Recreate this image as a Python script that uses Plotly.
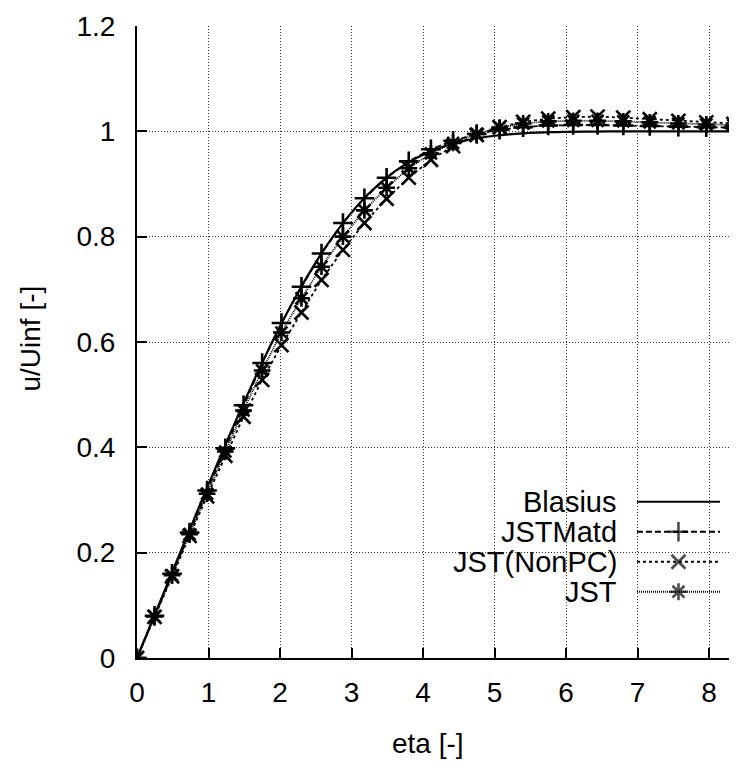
import plotly.graph_objects as go

# ---------------- data ----------------
blasius_eta = [0.0, 0.2, 0.4, 0.6, 0.8, 1.0, 1.2, 1.4, 1.6, 1.8, 2.0, 2.2, 2.4, 2.6, 2.8,
               3.0, 3.2, 3.4, 3.6, 3.8, 4.0, 4.2, 4.4, 4.6, 4.8, 5.0, 5.2, 5.4, 5.6, 5.8,
               6.0, 6.4, 6.8, 7.2, 7.6, 8.0, 8.8]
blasius_u = [0.0, 0.06641, 0.13277, 0.19894, 0.26471, 0.32979, 0.39378, 0.45627, 0.51676,
             0.57477, 0.62977, 0.68132, 0.72899, 0.77246, 0.81152, 0.84605, 0.87609, 0.90177,
             0.92333, 0.94112, 0.95552, 0.96696, 0.97587, 0.98269, 0.98779, 0.99155, 0.99425,
             0.99616, 0.99748, 0.99838, 0.99898, 0.99961, 0.99987, 0.99996, 0.99999, 1.0, 1.0]

eta = [0.0, 0.245, 0.49, 0.735, 0.98, 1.235, 1.49, 1.75, 2.02, 2.30, 2.58, 2.88, 3.18, 3.49,
       3.80, 4.11, 4.42, 4.75, 5.07, 5.40, 5.75, 6.10, 6.44, 6.80, 7.17, 7.57, 7.96, 8.34, 8.74]

jstmatd_u = [0.0, 0.080, 0.160, 0.238, 0.318, 0.398, 0.480, 0.560, 0.636, 0.705, 0.768, 0.826,
             0.873, 0.912, 0.943, 0.966, 0.982, 0.995, 1.003, 1.008, 1.011, 1.012, 1.012, 1.011,
             1.010, 1.009, 1.008, 1.007, 1.006]
jst_nonpc_u = [0.0, 0.078, 0.155, 0.232, 0.307, 0.384, 0.458, 0.528, 0.594, 0.656, 0.718, 0.775,
               0.826, 0.872, 0.912, 0.946, 0.972, 0.993, 1.008, 1.018, 1.024, 1.027, 1.028, 1.026,
               1.023, 1.020, 1.017, 1.014, 1.012]
jst_u = [0.0, 0.079, 0.157, 0.235, 0.312, 0.392, 0.470, 0.546, 0.618, 0.683, 0.743, 0.800,
         0.850, 0.893, 0.930, 0.958, 0.978, 0.995, 1.007, 1.015, 1.019, 1.020, 1.020, 1.019,
         1.017, 1.015, 1.013, 1.011, 1.010]

series_names = ["Blasius", "JSTMatd", "JST(NonPC)", "JST"]
x_ticks = [0, 1, 2, 3, 4, 5, 6, 7, 8]
y_ticks = [0, 0.2, 0.4, 0.6, 0.8, 1.0, 1.2]
y_tick_text = ["0", "0.2", "0.4", "0.6", "0.8", "1", "1.2"]
y_grid = [0.2, 0.4, 0.6, 0.8, 1.0]

# ---------------- page geometry (page pixels; body has an 8px margin) ----------------
BODY = 8
PL, PR, PT, PB = 137.3, 737.0, 26.0, 658.3   # plot area in page pixels
FIG_W, FIG_H = 737 - BODY, 768 - BODY

def px(xp):
    return (xp - PL) / (PR - PL)

def py(yp):
    return (PB - yp) / (PB - PT)

# ---------------- styles ----------------
FONT = "Liberation Sans, Arial, Helvetica, sans-serif"
FS = 28
KFS = 29
styles = {
    "Blasius": dict(dash="solid", symbol=None),
    "JSTMatd": dict(dash="6px,3px", symbol="cross-thin"),
    "JST(NonPC)": dict(dash="3px,3px", symbol="x-thin"),
    "JST": dict(dash="1px,1px", symbol="asterisk-open"),
}
MSIZE = 14
MLW = 2.6

fig = go.Figure()

fig.add_trace(go.Scatter(x=blasius_eta, y=blasius_u, mode="lines", line_shape="spline",
                         line=dict(color="black", width=2.2), showlegend=False))

for name, yv in [("JSTMatd", jstmatd_u), ("JST(NonPC)", jst_nonpc_u), ("JST", jst_u)]:
    st = styles[name]
    fig.add_trace(go.Scatter(
        x=eta, y=yv, mode="lines+markers", showlegend=False,
        line=dict(color="black", width=1.8, dash=st["dash"]),
        marker=dict(symbol=st["symbol"], size=MSIZE, color="black",
                    line=dict(color="black", width=MLW)),
    ))

# ---------------- custom gnuplot-like key (pixel-space helper axes) ----------------
key_rows = [502, 532, 562, 592]
for name, ypix in zip(series_names, key_rows):
    st = styles[name]
    if st["symbol"] is None:
        fig.add_trace(go.Scatter(x=[637, 720], y=[ypix, ypix], xaxis="x2", yaxis="y2",
                                 mode="lines", line=dict(color="black", width=2.2),
                                 showlegend=False, hoverinfo="skip"))
    else:
        fig.add_trace(go.Scatter(x=[637, 678.5, 720], y=[ypix] * 3, xaxis="x2", yaxis="y2",
                                 mode="lines+markers",
                                 line=dict(color="black", width=1.8, dash=st["dash"]),
                                 marker=dict(symbol=st["symbol"], size=[0, MSIZE, 0],
                                             color="black", line=dict(color="black", width=MLW)),
                                 showlegend=False, hoverinfo="skip"))
    fig.add_annotation(x=px(619), y=py(ypix), xref="paper", yref="paper", text=name,
                       showarrow=False, xanchor="right", yanchor="middle",
                       font=dict(family=FONT, size=KFS, color="black"))

# axis titles
fig.add_annotation(x=px(31), y=py(339), xref="paper", yref="paper", text="u/Uinf [-]",
                   textangle=-90, showarrow=False, xanchor="center", yanchor="middle",
                   font=dict(family=FONT, size=FS, color="black"))
fig.add_annotation(x=px(428), y=py(744), xref="paper", yref="paper", text="eta [-]",
                   showarrow=False, xanchor="center", yanchor="middle",
                   font=dict(family=FONT, size=FS, color="black"))

grid = dict(gridcolor="#333333", gridwidth=1, griddash="1px,2px")
fig.update_layout(
    width=FIG_W, height=FIG_H,
    margin=dict(l=PL - BODY, r=0, t=PT - BODY, b=FIG_H - (PB - BODY)),
    plot_bgcolor="white", paper_bgcolor="white",
    font=dict(family=FONT, size=FS, color="black"),
    xaxis=dict(range=[0, 8.39], tickvals=x_ticks, ticks="inside", ticklen=10, tickwidth=1.5,
               tickcolor="black", showline=True, linecolor="black", linewidth=2,
               zeroline=False, ticklabelstandoff=8, showgrid=True, **grid),
    yaxis=dict(range=[0, 1.2], tickvals=y_ticks, ticktext=y_tick_text, ticks="inside",
               ticklen=10, tickwidth=1.5, tickcolor="black", showline=True,
               linecolor="black", linewidth=2, zeroline=False, ticklabelstandoff=14,
               showgrid=False),
    yaxis3=dict(overlaying="y", range=[0, 1.2], tickvals=y_grid, showticklabels=False,
                ticks="", showline=False, zeroline=False, showgrid=True, **grid),
    xaxis2=dict(overlaying="x", range=[PL, PR], visible=False, fixedrange=True),
    yaxis2=dict(overlaying="y", range=[PB, PT], visible=False, fixedrange=True),
)
# a dummy invisible trace so the grid-only y axis is rendered
fig.add_trace(go.Scatter(x=[None], y=[None], yaxis="y3", showlegend=False, hoverinfo="skip"))

fig.write_html("out.html")
